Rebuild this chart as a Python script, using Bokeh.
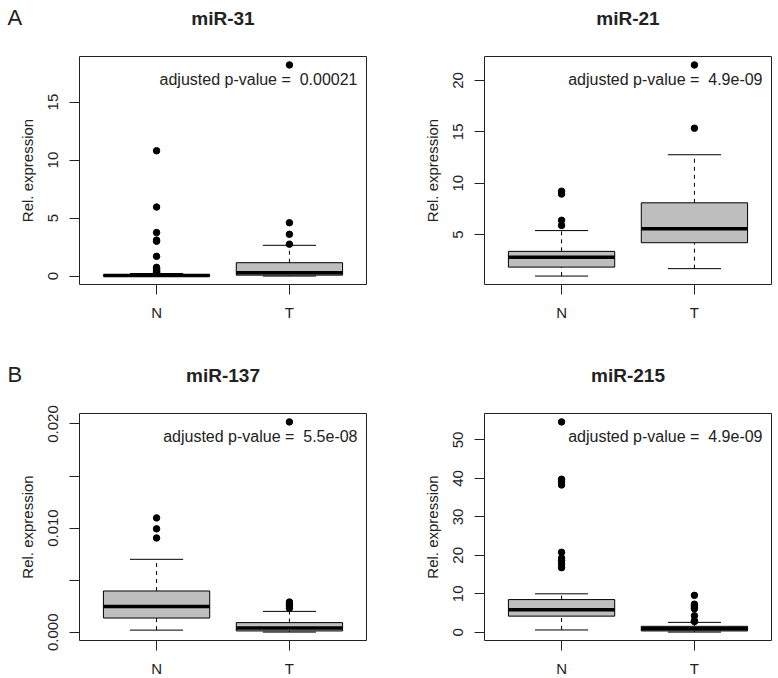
from bokeh.plotting import figure
from bokeh.layouts import gridplot
from bokeh.models import Range1d, FixedTicker, Label
from bokeh.embed import file_html
from bokeh.resources import INLINE

# ---------------- data ----------------
groups = ["N", "T"]
group_x = [1, 2]

# miR-31
mir31_lo = [0.0, 0.0]
mir31_q1 = [0.01, 0.08]
mir31_med = [0.04, 0.28]
mir31_q3 = [0.10, 1.15]
mir31_hi = [0.22, 2.65]
mir31_out_N = [10.8, 5.95, 3.75, 3.1, 3.0, 1.7, 0.75, 0.62, 0.52, 0.44, 0.36, 0.3]
mir31_out_T = [18.2, 4.6, 3.6, 2.75]
mir31_ticks = [0, 5, 10, 15]
mir31_tick_labels = ["0", "5", "10", "15"]
mir31_p = "0.00021"

# miR-21
mir21_lo = [0.98, 1.7]
mir21_q1 = [1.85, 4.22]
mir21_med = [2.8, 5.58]
mir21_q3 = [3.38, 8.1]
mir21_hi = [5.4, 12.77]
mir21_out_N = [9.23, 8.95, 6.4, 5.9]
mir21_out_T = [21.5, 15.35]
mir21_ticks = [5, 10, 15, 20]
mir21_tick_labels = ["5", "10", "15", "20"]
mir21_p = "4.9e-09"

# miR-137
mir137_lo = [0.0002, 0.00001]
mir137_q1 = [0.00136, 0.00012]
mir137_med = [0.00248, 0.00041]
mir137_q3 = [0.00396, 0.00092]
mir137_hi = [0.0070, 0.0020]
mir137_out_N = [0.01098, 0.00993, 0.00905]
mir137_out_T = [0.0202, 0.0029, 0.0027, 0.0025, 0.0023]
mir137_ticks = [0, 0.005, 0.01, 0.015, 0.02]
mir137_tick_labels = ["0.000", "", "0.010", "", "0.020"]
mir137_p = "5.5e-08"

# miR-215
mir215_lo = [0.6, 0.05]
mir215_q1 = [4.2, 0.35]
mir215_med = [5.85, 0.95]
mir215_q3 = [8.5, 1.55]
mir215_hi = [10.0, 2.58]
mir215_out_N = [54.7, 39.8, 39.2, 38.3, 20.8, 19.3, 18.6, 17.8, 16.8]
mir215_out_T = [9.6, 7.3, 6.9, 6.5, 6.1, 4.3, 3.0, 2.8]
mir215_ticks = [0, 10, 20, 30, 40, 50]
mir215_tick_labels = ["0", "10", "20", "30", "40", "50"]
mir215_p = "4.9e-09"

# ---------------- style ----------------
FONT = "Liberation Sans"
FW = 287
BOX_FILL = "#BEBEBE"
INK = "#222222"


def make_panel(col, row, title, lo, q1, med, q3, hi, out_N, out_T,
               ticks, tick_labels, pval, letter=None):
    lb = 79 if col == 0 else 108
    rb = 10 if col == 0 else 5
    tb = 56 if row == 0 else 84
    bb = 45 if row == 0 else 37
    fh = 228 if row == 0 else 227

    all_vals = lo + hi + out_N + out_T
    vmin, vmax = min(all_vals), max(all_vals)
    pad = 0.04 * (vmax - vmin)

    p = figure(frame_width=FW, frame_height=fh,
               min_border_left=lb, min_border_right=rb,
               min_border_top=tb, min_border_bottom=bb,
               x_range=Range1d(0.42, 2.58),
               y_range=Range1d(vmin - pad, vmax + pad),
               output_backend="svg", toolbar_location=None, tools="")
    p.xgrid.visible = False
    p.ygrid.visible = False
    p.outline_line_color = INK
    p.outline_line_width = 1
    p.outline_line_alpha = 1
    p.background_fill_color = "white"
    p.border_fill_color = "white"

    x = group_x
    half_box = 0.4
    half_staple = 0.2
    # whiskers
    p.segment(x0=x, y0=q3, x1=x, y1=hi, line_color="black", line_width=1, line_dash="4 4")
    p.segment(x0=x, y0=lo, x1=x, y1=q1, line_color="black", line_width=1, line_dash="4 4")
    # staples
    p.segment(x0=[v - half_staple for v in x], y0=hi, x1=[v + half_staple for v in x], y1=hi,
              line_color="black", line_width=1)
    p.segment(x0=[v - half_staple for v in x], y0=lo, x1=[v + half_staple for v in x], y1=lo,
              line_color="black", line_width=1)
    # boxes
    p.vbar(x=x, width=2 * half_box, bottom=q1, top=q3,
           fill_color=BOX_FILL, line_color="black", line_width=1)
    # medians
    p.segment(x0=[v - half_box for v in x], y0=med, x1=[v + half_box for v in x], y1=med,
              line_color="black", line_width=3.5, line_cap="butt")
    # outliers
    ox = [x[0]] * len(out_N) + [x[1]] * len(out_T)
    oy = out_N + out_T
    p.scatter(x=ox, y=oy, size=6.5, marker="circle", fill_color="black", line_color="black")

    # axes
    p.xaxis.ticker = FixedTicker(ticks=group_x)
    p.xaxis.major_label_overrides = dict(zip(group_x, groups))
    p.yaxis.ticker = FixedTicker(ticks=ticks)
    p.yaxis.major_label_overrides = dict(zip(ticks, tick_labels))
    p.yaxis.major_label_orientation = "vertical"
    p.yaxis.axis_label = "Rel. expression"
    p.yaxis.axis_label_text_font = FONT
    p.yaxis.axis_label_text_font_size = "15px"
    p.yaxis.axis_label_text_font_style = "normal"
    p.yaxis.axis_label_text_color = INK
    p.yaxis.axis_label_standoff = 10
    for ax in (p.xaxis[0], p.yaxis[0]):
        ax.axis_line_color = None
        ax.major_tick_line_color = INK
        ax.major_tick_out = 10
        ax.major_tick_in = 0
        ax.minor_tick_line_color = None
        ax.major_label_text_font = FONT
        ax.major_label_text_font_size = "15px"
        ax.major_label_text_color = INK
    p.xaxis.major_label_standoff = 9
    p.yaxis.major_label_standoff = 11

    # p-value text inside the frame
    p.add_layout(Label(x=FW - 9, y=fh - 23, x_units="screen", y_units="screen",
                       text="adjusted p-value = \u00a0" + pval, text_align="right",
                       text_baseline="alphabetic", text_font=FONT, text_font_size="16px",
                       text_color=INK))
    # title (panel closest to the frame) and panel letter (next panel up)
    p.add_layout(Label(x=FW / 2, y=38, x_units="screen", y_units="screen",
                       text=title, text_align="center", text_baseline="alphabetic",
                       text_font=FONT, text_font_size="19px", text_font_style="bold",
                       text_color=INK), "above")
    if letter is not None:
        p.add_layout(Label(x=-72, y=18.5 if row == 0 else 18, x_units="screen", y_units="screen",
                           text=letter, text_align="left", text_baseline="alphabetic",
                           text_font=FONT, text_font_size="22px", text_color=INK), "above")
    return p


pA = make_panel(0, 0, "miR-31", mir31_lo, mir31_q1, mir31_med, mir31_q3, mir31_hi,
                mir31_out_N, mir31_out_T, mir31_ticks, mir31_tick_labels, mir31_p, "A")
pB = make_panel(1, 0, "miR-21", mir21_lo, mir21_q1, mir21_med, mir21_q3, mir21_hi,
                mir21_out_N, mir21_out_T, mir21_ticks, mir21_tick_labels, mir21_p)
pC = make_panel(0, 1, "miR-137", mir137_lo, mir137_q1, mir137_med, mir137_q3, mir137_hi,
                mir137_out_N, mir137_out_T, mir137_ticks, mir137_tick_labels, mir137_p, "B")
pD = make_panel(1, 1, "miR-215", mir215_lo, mir215_q1, mir215_med, mir215_q3, mir215_hi,
                mir215_out_N, mir215_out_T, mir215_ticks, mir215_tick_labels, mir215_p)

grid = gridplot([[pA, pB], [pC, pD]], toolbar_location=None)

open("out.html", "w").write(file_html(grid, INLINE))
